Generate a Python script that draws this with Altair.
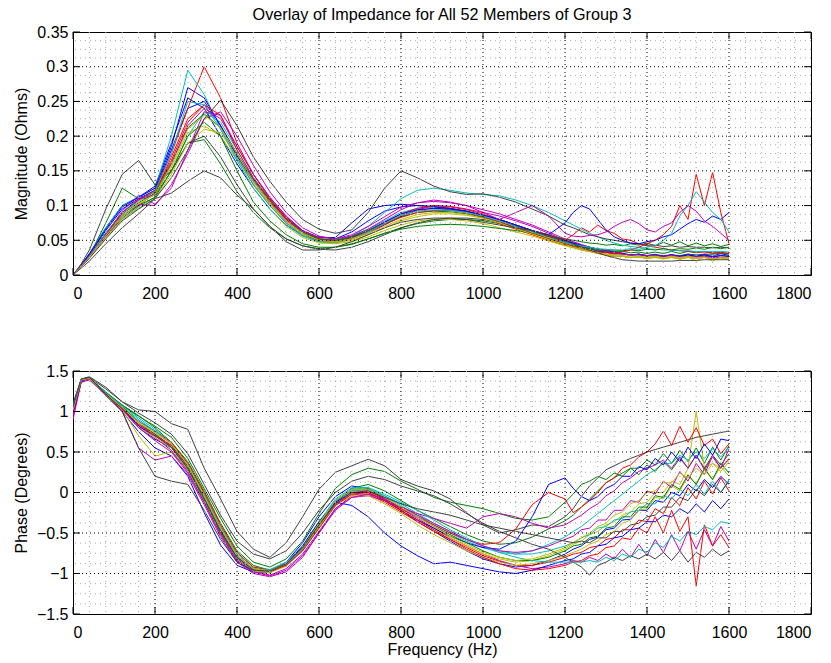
import altair as alt
import pandas as pd

# ---------------- data ----------------
freq_hz = [0, 20, 40, 80, 120, 160, 200, 240, 280, 320, 360, 400, 440, 480, 520, 560, 600,
           640, 680, 720, 760, 800, 840, 880, 920, 960, 1000, 1040, 1080, 1120, 1160, 1200,
           1220, 1240, 1260, 1280, 1300, 1320, 1340, 1360, 1380, 1400, 1420, 1440, 1460,
           1480, 1500, 1520, 1540, 1560, 1580, 1600]

mag_01 = [0, .015, .031, .068, .100, .112, .128, .190, .255, .240, .200, .160, .125, .095, .072, .057, .050, .052, .062, .078, .092, .098, .100, .099, .096, .091, .086, .079, .071, .063, .055, .047,
          .044, .040, .038, .034, .033, .030, .031, .028, .030, .027, .029, .026, .029, .026, .030, .026, .030, .027, .031, .028]
mag_02 = [0, .013, .028, .075, .125, .110, .115, .150, .190, .195, .160, .120, .090, .068, .052, .042, .038, .040, .045, .052, .060, .068, .074, .078, .080, .080, .078, .074, .068, .062, .055, .048,
          .045, .042, .040, .037, .036, .034, .034, .032, .033, .031, .033, .031, .034, .031, .034, .032, .034, .031, .033, .031]
mag_03 = [0, .013, .027, .058, .086, .100, .118, .170, .225, .245, .215, .170, .130, .100, .075, .057, .048, .046, .052, .062, .074, .086, .093, .096, .094, .090, .083, .074, .066, .058, .050, .043,
          .040, .036, .034, .031, .029, .027, .027, .025, .026, .024, .026, .024, .026, .023, .026, .024, .026, .024, .025, .024]
mag_04 = [0, .012, .025, .055, .080, .098, .112, .150, .200, .235, .220, .180, .140, .110, .082, .062, .052, .050, .056, .066, .078, .090, .096, .098, .096, .092, .086, .080, .072, .064, .056, .048,
          .045, .041, .039, .036, .034, .032, .031, .029, .030, .028, .030, .027, .029, .027, .030, .027, .029, .027, .029, .027]
mag_05 = [0, .013, .027, .058, .092, .115, .102, .125, .180, .235, .230, .185, .145, .112, .085, .064, .052, .048, .052, .060, .072, .084, .094, .100, .099, .095, .090, .085, .078, .070, .060, .050,
          .047, .043, .040, .037, .034, .032, .031, .028, .030, .027, .029, .026, .029, .026, .029, .026, .028, .026, .028, .026]
mag_06 = [0, .013, .026, .056, .084, .102, .116, .155, .205, .215, .200, .165, .125, .095, .070, .054, .046, .045, .048, .055, .064, .072, .078, .080, .080, .078, .074, .068, .062, .056, .049, .042,
          .039, .036, .034, .031, .029, .027, .027, .025, .026, .024, .026, .024, .026, .024, .026, .020, .026, .024, .025, .024]
mag_07 = [0, .016, .036, .095, .145, .165, .130, .150, .190, .200, .170, .130, .095, .070, .052, .042, .037, .036, .040, .048, .058, .068, .075, .080, .082, .082, .080, .076, .070, .064, .056, .048,
          .044, .041, .038, .035, .033, .031, .030, .029, .029, .028, .029, .028, .029, .028, .030, .029, .030, .030, .031, .030]
mag_08 = [0, .014, .029, .064, .095, .110, .122, .180, .240, .250, .215, .175, .138, .108, .082, .064, .054, .054, .075, .095, .100, .102, .100, .098, .096, .092, .086, .080, .072, .064, .057, .050,
          .046, .043, .040, .037, .035, .033, .031, .029, .030, .028, .029, .027, .029, .027, .029, .027, .029, .026, .028, .027]
mag_09 = [0, .012, .025, .055, .082, .100, .112, .150, .200, .220, .200, .150, .105, .078, .058, .045, .040, .040, .044, .052, .060, .066, .070, .072, .073, .072, .070, .067, .064, .060, .056, .052,
          .050, .048, .046, .045, .043, .044, .042, .045, .043, .046, .042, .047, .043, .048, .042, .046, .042, .045, .041, .044]
mag_10 = [0, .013, .027, .060, .090, .108, .122, .175, .240, .300, .255, .190, .145, .110, .082, .062, .052, .050, .054, .064, .076, .088, .096, .100, .098, .094, .088, .080, .072, .064, .056, .050,
          .058, .068, .062, .072, .064, .060, .052, .050, .045, .042, .040, .038, .036, .035, .034, .033, .033, .032, .032, .031]
mag_11 = [0, .014, .030, .068, .100, .112, .125, .200, .295, .260, .210, .165, .125, .095, .072, .056, .048, .048, .056, .070, .090, .110, .122, .125, .122, .118, .116, .114, .108, .100, .090, .078,
          .072, .066, .060, .055, .050, .046, .043, .041, .040, .038, .037, .036, .036, .035, .035, .034, .034, .034, .034, .033]
mag_12 = [0, .013, .026, .056, .085, .102, .100, .130, .175, .225, .235, .200, .158, .120, .090, .068, .056, .052, .056, .066, .080, .094, .104, .108, .105, .100, .094, .088, .080, .072, .062, .052,
          .048, .044, .040, .037, .034, .032, .030, .029, .029, .028, .028, .027, .028, .026, .027, .026, .027, .025, .026, .025]
mag_13 = [0, .012, .025, .054, .080, .096, .110, .145, .190, .210, .205, .170, .132, .102, .076, .058, .048, .046, .050, .058, .068, .078, .084, .088, .088, .086, .082, .076, .069, .061, .053, .045,
          .042, .038, .035, .032, .030, .028, .027, .025, .026, .024, .025, .023, .025, .023, .025, .024, .025, .023, .024, .023]
mag_14 = [0, .012, .024, .052, .078, .095, .110, .140, .180, .225, .252, .215, .170, .135, .105, .080, .066, .060, .065, .090, .125, .150, .140, .128, .120, .116, .117, .112, .105, .095, .085, .072,
          .068, .063, .058, .055, .052, .050, .048, .046, .045, .043, .043, .041, .042, .040, .041, .040, .040, .039, .040, .039]
mag_15 = [0, .014, .030, .066, .098, .112, .125, .185, .270, .255, .215, .172, .135, .104, .078, .060, .050, .048, .054, .064, .076, .088, .094, .096, .095, .092, .086, .080, .072, .064, .058, .075,
          .090, .100, .095, .080, .065, .055, .050, .046, .045, .048, .050, .055, .058, .066, .074, .080, .076, .085, .080, .090]
mag_16 = [0, .013, .027, .060, .088, .104, .118, .162, .212, .232, .212, .175, .136, .106, .080, .062, .052, .050, .055, .064, .074, .084, .090, .092, .091, .088, .083, .076, .068, .060, .052, .045,
          .042, .040, .038, .037, .036, .036, .035, .036, .035, .037, .036, .038, .036, .038, .037, .039, .037, .040, .038, .040]
mag_17 = [0, .013, .027, .060, .090, .108, .120, .165, .220, .245, .230, .180, .140, .108, .080, .060, .050, .048, .053, .062, .073, .083, .090, .093, .093, .090, .084, .077, .068, .060, .052, .045,
          .041, .038, .035, .033, .032, .031, .033, .036, .040, .045, .050, .058, .070, .100, .080, .145, .100, .148, .090, .045]
mag_18 = [0, .013, .027, .060, .090, .106, .120, .175, .250, .245, .210, .168, .130, .100, .075, .057, .048, .047, .052, .062, .074, .086, .092, .094, .093, .090, .085, .078, .070, .062, .054, .047,
          .044, .042, .040, .038, .037, .036, .036, .038, .037, .040, .042, .050, .060, .085, .100, .120, .105, .090, .080, .062]
mag_19 = [0, .013, .027, .058, .090, .110, .115, .160, .215, .240, .225, .185, .145, .112, .084, .064, .054, .052, .058, .070, .084, .098, .104, .106, .104, .100, .090, .080, .090, .100, .085, .060,
          .056, .055, .057, .058, .062, .070, .076, .080, .074, .065, .062, .070, .075, .090, .100, .092, .078, .070, .060, .050]
mag_20 = [0, .012, .026, .057, .085, .103, .116, .158, .210, .230, .212, .175, .135, .104, .078, .060, .050, .048, .052, .060, .070, .080, .087, .090, .090, .087, .082, .075, .067, .059, .051, .044,
          .040, .037, .034, .032, .030, .029, .028, .027, .027, .026, .027, .025, .027, .025, .027, .025, .026, .020, .026, .025]
mag_21 = [0, .010, .020, .045, .068, .088, .110, .118, .135, .150, .140, .115, .095, .070, .048, .036, .036, .040, .048, .058, .068, .076, .080, .082, .082, .080, .076, .072, .068, .064, .058, .050,
          .045, .040, .036, .032, .028, .025, .022, .021, .020, .020, .020, .020, .020, .021, .021, .021, .022, .022, .022, .022]

phase_01 = [0.95, 1.37, 1.41, 1.20, 1.00, 0.75, 0.55, 0.45, 0.20, -0.25, -0.65, -0.90, -0.98, -0.97, -0.86, -0.62, -0.30, -0.05, 0.08, 0.05, -0.08, -0.22, -0.36, -0.48, -0.60, -0.72, -0.82, -0.88, -0.92, -0.90, -0.84, -0.76,
            -0.70, -0.66, -0.58, -0.55, -0.46, -0.44, -0.34, -0.33, -0.22, -0.22, -0.10, -0.12, 0.00, -0.04, 0.10, 0.02, 0.16, 0.06, 0.20, 0.10]
phase_02 = [1.05, 1.38, 1.40, 1.22, 1.08, 0.95, 0.80, 0.62, 0.38, 0.02, -0.38, -0.72, -0.90, -0.96, -0.90, -0.72, -0.42, -0.12, 0.05, 0.10, 0.02, -0.10, -0.22, -0.32, -0.42, -0.52, -0.60, -0.64, -0.62, -0.55, -0.45, -0.35,
            -0.28, -0.18, -0.08, 0.02, 0.12, 0.18, 0.24, 0.30, 0.30, 0.40, 0.34, 0.48, 0.36, 0.52, 0.38, 0.55, 0.36, 0.56, 0.40, 0.58]
phase_03 = [1.00, 1.39, 1.41, 1.22, 1.04, 0.84, 0.72, 0.58, 0.32, -0.06, -0.46, -0.80, -0.95, -0.98, -0.90, -0.70, -0.40, -0.14, -0.02, -0.02, -0.12, -0.24, -0.36, -0.48, -0.58, -0.68, -0.78, -0.85, -0.90, -0.90, -0.86, -0.80,
            -0.76, -0.74, -0.68, -0.66, -0.58, -0.56, -0.46, -0.46, -0.34, -0.36, -0.20, -0.26, -0.06, -0.16, 0.06, -0.08, 0.14, -0.02, 0.18, 0.02]
phase_04 = [1.08, 1.40, 1.42, 1.24, 1.08, 0.92, 0.78, 0.62, 0.36, -0.02, -0.42, -0.76, -0.92, -0.95, -0.86, -0.66, -0.36, -0.08, 0.06, 0.06, -0.04, -0.16, -0.28, -0.40, -0.50, -0.60, -0.68, -0.74, -0.76, -0.72, -0.64, -0.55,
            -0.48, -0.42, -0.34, -0.26, -0.18, -0.10, -0.02, 0.06, 0.14, 0.22, 0.28, 0.36, 0.36, 0.46, 0.40, 0.50, 0.42, 0.54, 0.44, 0.56]
phase_05 = [0.90, 1.36, 1.39, 1.20, 1.00, 0.55, 0.40, 0.45, 0.22, -0.15, -0.55, -0.86, -1.00, -1.04, -0.98, -0.80, -0.50, -0.20, -0.04, 0.02, -0.08, -0.20, -0.32, -0.44, -0.56, -0.66, -0.76, -0.84, -0.90, -0.94, -0.92, -0.88,
            -0.84, -0.86, -0.80, -0.84, -0.76, -0.82, -0.70, -0.80, -0.64, -0.78, -0.58, -0.74, -0.52, -0.72, -0.48, -0.70, -0.46, -0.66, -0.42, -0.60]
phase_06 = [1.00, 1.38, 1.40, 1.21, 1.02, 0.70, 0.45, 0.50, 0.28, -0.10, -0.50, -0.82, -0.96, -0.98, -0.90, -0.72, -0.44, -0.16, -0.02, 0.00, -0.10, -0.22, -0.34, -0.46, -0.56, -0.66, -0.76, -0.82, -0.86, -0.84, -0.78, -0.70,
            -0.64, -0.60, -0.52, -0.48, -0.40, -0.36, -0.28, -0.24, -0.14, -0.12, 0.00, 0.00, 0.14, 0.10, 0.30, 1.00, 0.30, 0.36, 0.30, 0.40]
phase_07 = [1.10, 1.40, 1.43, 1.30, 1.12, 1.02, 1.00, 0.85, 0.78, 0.30, -0.08, -0.48, -0.70, -0.80, -0.62, -0.30, 0.04, 0.25, 0.33, 0.41, 0.33, 0.16, 0.08, 0.02, -0.08, -0.25, -0.40, -0.50, -0.46, -0.40, -0.42, -0.30,
            -0.20, -0.05, 0.08, 0.18, 0.28, 0.33, 0.38, 0.42, 0.46, 0.50, 0.53, 0.56, 0.59, 0.62, 0.65, 0.68, 0.70, 0.72, 0.74, 0.76]
phase_08 = [0.98, 1.37, 1.40, 1.20, 1.02, 0.80, 0.66, 0.55, 0.28, -0.12, -0.52, -0.85, -0.98, -0.99, -0.88, -0.66, -0.36, -0.12, -0.16, -0.30, -0.50, -0.66, -0.78, -0.88, -0.86, -0.90, -0.94, -0.98, -1.00, -0.96, -0.90, -0.84,
            -0.82, -0.76, -0.74, -0.66, -0.64, -0.56, -0.54, -0.46, -0.44, -0.36, -0.36, -0.28, -0.30, -0.20, -0.26, -0.14, -0.24, -0.10, -0.20, -0.08]
phase_09 = [1.02, 1.39, 1.41, 1.24, 1.08, 0.94, 0.82, 0.68, 0.42, 0.05, -0.32, -0.66, -0.86, -0.92, -0.82, -0.60, -0.26, 0.05, 0.22, 0.30, 0.26, 0.14, 0.04, -0.06, -0.12, -0.16, -0.20, -0.26, -0.32, -0.34, -0.30, -0.12,
            -0.02, 0.10, 0.14, 0.20, 0.16, 0.24, 0.20, 0.30, 0.22, 0.34, 0.26, 0.38, 0.28, 0.42, 0.30, 0.46, 0.30, 0.46, 0.34, 0.48]
phase_10 = [1.00, 1.38, 1.41, 1.22, 1.05, 0.88, 0.76, 0.62, 0.36, 0.00, -0.40, -0.74, -0.92, -0.96, -0.88, -0.68, -0.38, -0.10, 0.02, 0.02, -0.08, -0.20, -0.30, -0.40, -0.50, -0.58, -0.64, -0.62, -0.45, -0.15, 0.00, -0.08,
            -0.25, -0.18, -0.10, 0.00, 0.12, 0.18, 0.30, 0.34, 0.44, 0.50, 0.60, 0.76, 0.58, 0.82, 0.62, 0.80, 0.58, 0.66, 0.48, 0.60]
phase_11 = [1.02, 1.39, 1.41, 1.23, 1.06, 0.88, 0.74, 0.60, 0.34, -0.04, -0.44, -0.78, -0.94, -0.97, -0.89, -0.70, -0.40, -0.12, 0.02, 0.04, -0.04, -0.14, -0.26, -0.38, -0.48, -0.58, -0.66, -0.72, -0.76, -0.76, -0.72, -0.66,
            -0.62, -0.56, -0.52, -0.44, -0.42, -0.34, -0.32, -0.24, -0.22, -0.14, -0.14, -0.04, -0.08, 0.04, -0.04, 0.10, -0.02, 0.14, 0.00, 0.16]
phase_12 = [0.95, 1.37, 1.40, 1.21, 1.03, 0.82, 0.68, 0.52, 0.26, -0.10, -0.50, -0.82, -0.97, -1.02, -0.94, -0.76, -0.48, -0.20, -0.06, -0.04, -0.10, -0.18, -0.26, -0.32, -0.38, -0.44, -0.30, -0.26, -0.30, -0.38, -0.44, -0.40,
            -0.34, -0.28, -0.20, -0.14, -0.04, 0.02, 0.12, 0.18, 0.26, 0.30, 0.34, 0.40, 0.30, 0.44, 0.30, 0.46, 0.28, 0.44, 0.30, 0.42]
phase_13 = [1.00, 1.38, 1.40, 1.20, 1.02, 0.80, 0.68, 0.55, 0.28, -0.10, -0.52, -0.84, -0.97, -0.99, -0.91, -0.72, -0.42, -0.16, -0.04, -0.04, -0.14, -0.26, -0.40, -0.52, -0.62, -0.72, -0.80, -0.86, -0.90, -0.88, -0.84, -0.78,
            -0.74, -0.70, -0.64, -0.60, -0.52, -0.48, -0.38, -0.34, -0.22, -0.20, -0.06, -0.08, 0.08, 0.02, 0.20, 0.10, 0.28, 0.16, 0.32, 0.20]
phase_14 = [1.05, 1.40, 1.42, 1.28, 1.12, 0.98, 0.86, 0.72, 0.48, 0.10, -0.28, -0.60, -0.76, -0.82, -0.72, -0.50, -0.22, 0.00, 0.14, 0.20, 0.16, 0.08, 0.02, -0.04, -0.14, -0.26, -0.38, -0.48, -0.56, -0.64, -0.70, -0.80,
            -0.86, -0.92, -1.02, -0.90, -0.86, -0.80, -0.84, -0.78, -0.82, -0.76, -0.82, -0.74, -0.84, -0.72, -0.86, -0.74, -0.80, -0.70, -0.78, -0.72]
phase_15 = [0.98, 1.38, 1.41, 1.22, 1.04, 0.82, 0.70, 0.56, 0.30, -0.08, -0.48, -0.80, -0.95, -0.97, -0.88, -0.68, -0.38, -0.12, 0.00, 0.00, -0.10, -0.22, -0.34, -0.44, -0.54, -0.62, -0.68, -0.70, -0.60, -0.30, 0.10, 0.18,
            0.05, -0.05, -0.10, -0.05, 0.05, 0.10, 0.20, 0.20, 0.32, 0.28, 0.42, 0.34, 0.50, 0.38, 0.56, 0.42, 0.60, 0.46, 0.66, 0.64]
phase_16 = [1.00, 1.38, 1.41, 1.23, 1.06, 0.86, 0.72, 0.56, 0.30, -0.08, -0.48, -0.80, -0.95, -0.97, -0.88, -0.68, -0.38, -0.10, 0.04, 0.04, -0.06, -0.18, -0.30, -0.42, -0.52, -0.62, -0.72, -0.80, -0.84, -0.84, -0.80, -0.72,
            -0.66, -0.64, -0.56, -0.54, -0.44, -0.42, -0.30, -0.30, -0.18, -0.18, -0.04, -0.06, 0.10, 0.04, 0.22, 0.10, 0.30, 0.16, 0.36, 0.24]
phase_17 = [1.02, 1.39, 1.41, 1.22, 1.04, 0.84, 0.70, 0.58, 0.33, -0.04, -0.44, -0.78, -0.94, -0.97, -0.90, -0.72, -0.44, -0.16, -0.02, 0.00, -0.10, -0.22, -0.34, -0.46, -0.58, -0.70, -0.80, -0.88, -0.94, -0.96, -0.94, -0.90,
            -0.86, -0.84, -0.78, -0.76, -0.68, -0.66, -0.56, -0.58, -0.44, -0.50, -0.30, -0.50, -0.22, -0.48, -0.30, -1.15, -0.40, -0.66, -0.52, -0.68]
phase_18 = [1.04, 1.40, 1.41, 1.23, 1.07, 0.90, 0.76, 0.60, 0.34, -0.04, -0.44, -0.78, -0.94, -0.96, -0.88, -0.68, -0.38, -0.10, 0.04, 0.06, -0.02, -0.12, -0.22, -0.34, -0.46, -0.56, -0.66, -0.74, -0.80, -0.84, -0.86, -0.86,
            -0.86, -0.86, -0.84, -0.86, -0.80, -0.84, -0.76, -0.80, -0.70, -0.74, -0.62, -0.68, -0.54, -0.60, -0.48, -0.52, -0.42, -0.46, -0.36, -0.38]
phase_19 = [0.98, 1.38, 1.40, 1.21, 1.03, 0.80, 0.64, 0.50, 0.24, -0.12, -0.52, -0.84, -0.98, -1.03, -0.96, -0.78, -0.50, -0.22, -0.06, -0.02, -0.08, -0.18, -0.28, -0.38, -0.48, -0.58, -0.66, -0.72, -0.74, -0.72, -0.66, -0.58,
            -0.54, -0.46, -0.44, -0.34, -0.34, -0.22, -0.22, -0.10, -0.12, 0.02, -0.02, 0.14, 0.06, 0.26, 0.14, 0.36, 0.22, 0.46, 0.30, 0.54]
phase_20 = [1.02, 1.39, 1.41, 1.22, 1.05, 0.86, 0.74, 0.60, 0.34, -0.04, -0.44, -0.78, -0.94, -0.97, -0.88, -0.68, -0.38, -0.10, 0.04, 0.04, -0.06, -0.18, -0.30, -0.42, -0.54, -0.64, -0.74, -0.80, -0.84, -0.82, -0.76, -0.68,
            -0.62, -0.56, -0.50, -0.42, -0.38, -0.28, -0.24, -0.14, -0.10, 0.00, 0.02, 0.12, 0.12, 0.24, 0.18, 0.30, 0.22, 0.36, 0.26, 0.38]
phase_21 = [1.05, 1.40, 1.42, 1.22, 1.00, 0.55, 0.20, 0.14, 0.10, -0.22, -0.58, -0.86, -0.96, -0.97, -0.88, -0.68, -0.40, -0.14, 0.00, 0.02, -0.06, -0.14, -0.20, -0.24, -0.28, -0.34, -0.40, -0.44, -0.48, -0.52, -0.56, -0.60,
            -0.62, -0.60, -0.62, -0.56, -0.56, -0.48, -0.48, -0.40, -0.38, -0.30, -0.28, -0.18, -0.18, -0.06, -0.10, 0.04, -0.04, 0.10, 0.00, 0.14]

# MATLAB default line colour order: b, g, r, c, m, y, k
line_colors = ["#0000ff", "#008000", "#ff0000", "#00bfbf", "#bf00bf", "#bfbf00", "#404040"]

x_ticks = [0, 200, 400, 600, 800, 1000, 1200, 1400, 1600, 1800]
mag_ticks = [0, 0.05, 0.1, 0.15, 0.2, 0.25, 0.3, 0.35]
phase_ticks = [-1.5, -1, -0.5, 0, 0.5, 1, 1.5]

# ---------------- assemble ----------------
mag_series = [mag_01, mag_02, mag_03, mag_04, mag_05, mag_06, mag_07, mag_08, mag_09, mag_10, mag_11,
              mag_12, mag_13, mag_14, mag_15, mag_16, mag_17, mag_18, mag_19, mag_20, mag_21]
phase_series = [phase_01, phase_02, phase_03, phase_04, phase_05, phase_06, phase_07, phase_08, phase_09,
                phase_10, phase_11, phase_12, phase_13, phase_14, phase_15, phase_16, phase_17, phase_18,
                phase_19, phase_20, phase_21]

members = [f"{k + 1:02d}" for k in range(len(mag_series))]
member_colors = [line_colors[k % len(line_colors)] for k in range(len(members))]

rows = []
for k, (m, p) in enumerate(zip(mag_series, phase_series)):
    assert len(m) == len(freq_hz) and len(p) == len(freq_hz), (k + 1, len(m), len(p))
    for f, a, b in zip(freq_hz, m, p):
        rows.append({"member": members[k], "freq": f, "mag": a, "phase": b})
df = pd.DataFrame(rows)

# grid positions (major = ticks, minor = 5 subdivisions in x, 4 in y)
x_minor = [x_ticks[i] + j * 40 for i in range(len(x_ticks) - 1) for j in range(1, 5)]
mag_minor = [mag_ticks[i] + j * 0.0125 for i in range(len(mag_ticks) - 1) for j in range(1, 4)]
phase_minor = [phase_ticks[i] + j * 0.125 for i in range(len(phase_ticks) - 1) for j in range(1, 4)]

W, H = 738, 243
TICK = 7
FONT = "Liberation Sans"

xscale = alt.Scale(domain=[0, 1800], nice=False, zero=False)


def panel(yfield, yscale, y_ticks, y_minor, ytitle, xtitle, title=None):
    if xtitle:
        xaxis = alt.Axis(values=x_ticks, format="d", labelPadding=10, title=xtitle, titlePadding=1)
    else:
        xaxis = alt.Axis(values=x_ticks, format="d", labelPadding=10, title=None)
    yaxis = alt.Axis(values=y_ticks, format="~g", title=ytitle, labelPadding=5, titlePadding=7)

    def vrule(vals, color, dash):
        return alt.Chart(pd.DataFrame({"g": vals})).mark_rule(
            color=color, strokeDash=dash, strokeWidth=1).encode(
            x=alt.X("g:Q", scale=xscale, axis=xaxis))

    def hrule(vals, color, dash):
        return alt.Chart(pd.DataFrame({"g": vals})).mark_rule(
            color=color, strokeDash=dash, strokeWidth=1).encode(
            y=alt.Y("g:Q", scale=yscale, axis=yaxis))

    grid = [
        vrule(x_minor, "#a8a8a8", [1, 4]),
        hrule(y_minor, "#a8a8a8", [1, 4]),
        vrule(x_ticks[1:-1], "#000000", [1, 3]),
        hrule(y_ticks[1:-1], "#000000", [1, 3]),
    ]

    lines = alt.Chart(df).mark_line(strokeWidth=1, clip=True).encode(
        x=alt.X("freq:Q", scale=xscale, axis=xaxis),
        y=alt.Y(f"{yfield}:Q", scale=yscale, axis=yaxis),
        color=alt.Color("member:N", scale=alt.Scale(domain=members, range=member_colors), legend=None),
        detail="member:N",
    )

    xt = pd.DataFrame({"t": x_ticks})
    yt = pd.DataFrame({"t": y_ticks})
    ticks = [
        alt.Chart(xt).mark_rule(color="black").encode(
            x=alt.X("t:Q", scale=xscale, axis=xaxis), y=alt.value(H), y2=alt.value(H - TICK)),
        alt.Chart(xt).mark_rule(color="black").encode(
            x=alt.X("t:Q", scale=xscale, axis=xaxis), y=alt.value(0), y2=alt.value(TICK)),
        alt.Chart(yt).mark_rule(color="black").encode(
            y=alt.Y("t:Q", scale=yscale, axis=yaxis), x=alt.value(0), x2=alt.value(TICK)),
        alt.Chart(yt).mark_rule(color="black").encode(
            y=alt.Y("t:Q", scale=yscale, axis=yaxis), x=alt.value(W), x2=alt.value(W - TICK)),
    ]
    props = dict(width=W, height=H)
    if title:
        props["title"] = alt.Title(title, fontSize=16.2, font=FONT, fontWeight="normal", color="black",
                                   anchor="middle", frame="group", offset=1)
    return alt.layer(lines, *grid, *ticks).properties(**props)


top = panel("mag", alt.Scale(domain=[0, 0.35], nice=False, zero=False), mag_ticks, mag_minor,
            "Magnitude (Ohms)", None, "Overlay of Impedance for All 52 Members of Group 3")
bottom = panel("phase", alt.Scale(domain=[-1.5, 1.5], nice=False, zero=False), phase_ticks, phase_minor,
               "Phase (Degrees)", "Frequency (Hz)")

chart = alt.vconcat(top, bottom, spacing=60).configure(
    padding={"left": 12, "top": 6, "right": 2, "bottom": 2},
    background="white",
    font=FONT,
).configure_view(
    stroke="black", strokeWidth=1
).configure_axis(
    domain=False, ticks=False, grid=False,
    labelFont=FONT, labelFontSize=16, labelColor="black",
    titleFont=FONT, titleFontSize=16, titleFontWeight="normal", titleColor="black",
)

chart.save("out.html", embed_options={"renderer": "svg", "actions": False})
